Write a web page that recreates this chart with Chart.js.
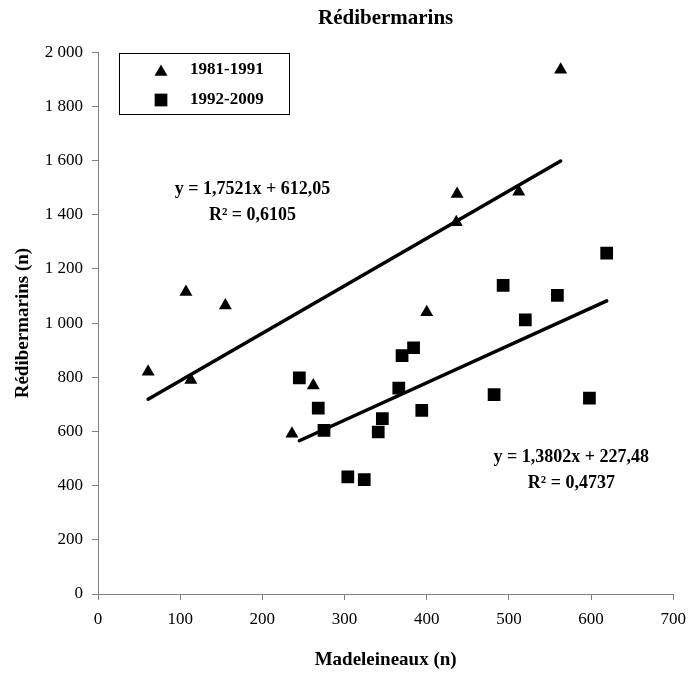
<!DOCTYPE html>
<html>
<head>
<meta charset="utf-8">
<script src="https://cdn.jsdelivr.net/npm/chart.js@4/dist/chart.umd.min.js"></script>
<style>
  html, body { margin: 0; padding: 0; background: #fff; }
  #wrap { width: 695px; height: 674px; }
</style>
</head>
<body>
<div id="wrap"><canvas id="chart" width="695" height="674"></canvas></div>
<script>
// 1981-1991 (triangles)
const madeleineaux8191 = [61, 107, 113, 155, 236, 262, 400, 436, 437, 512, 563];
const redibermarins8191 = [820, 1115, 790, 1065, 592, 770, 1040, 1372, 1477, 1485, 1935];
// 1992-2009 (squares)
const madeleineaux9209 = [245, 268, 275, 304, 324, 341, 346, 366, 370, 384, 394, 482, 493, 520, 559, 598, 619];
const redibermarins9209 = [798, 686, 604, 432, 422, 598, 647, 760, 880, 909, 678, 736, 1139, 1012, 1102, 723, 1258];

const seriesLabels = ['1981-1991', '1992-2009'];
// trend line coefficients as printed on the chart: [slope, intercept]
const trend8191 = [1.7521, 612.05];
const trend9209 = [1.3802, 227.48];
const trendText8191 = ['y = 1,7521x + 612,05', 'R² = 0,6105'];
const trendText9209 = ['y = 1,3802x + 227,48', 'R² = 0,4737'];

const xTicks = [0, 100, 200, 300, 400, 500, 600, 700];
const yTicks = [0, 200, 400, 600, 800, 1000, 1200, 1400, 1600, 1800, 2000];

const SERIF = '"Liberation Serif", "Times New Roman", serif';

const toPoints = (xs, ys) => xs.map((x, i) => ({ x, y: ys[i] }));
const trendPoints = (xs, coef) => {
  const lo = Math.min(...xs), hi = Math.max(...xs);
  return [lo, hi].map(x => ({ x, y: coef[0] * x + coef[1] }));
};
const frNumber = v => String(v).replace(/\B(?=(\d{3})+(?!\d))/g, ' ');

// legend box and the trend equations, drawn on top
const overlay = {
  id: 'overlay',
  afterDraw(chart) {
    const { ctx, scales: { x, y } } = chart;
    ctx.save();

    // legend
    ctx.strokeStyle = '#000';
    ctx.lineWidth = 1;
    ctx.strokeRect(119.5, 53.5, 170, 61);
    const styles = ['triangle', 'rect'];
    const radii = [7.5, 9];
    ctx.font = 'bold 17px ' + SERIF;
    ctx.textBaseline = 'middle';
    ctx.textAlign = 'left';
    seriesLabels.forEach((label, i) => {
      const cy = 70 + i * 30;
      ctx.fillStyle = '#000';
      Chart.helpers.drawPoint(ctx, { pointStyle: styles[i], radius: radii[i], borderWidth: 0 }, 161, cy + (i === 0 ? 2 : 0));
      ctx.fillText(label, 190, cy);
    });

    // equations
    ctx.font = 'bold 18px ' + SERIF;
    ctx.textAlign = 'center';
    ctx.fillStyle = '#000';
    const eq = (lines, vx, vy) => {
      const px = x.getPixelForValue(vx), py = y.getPixelForValue(vy);
      lines.forEach((t, i) => ctx.fillText(t, px, py + i * 26));
    };
    eq(trendText8191, 188, 1492);
    eq(trendText9209, 576, 505);
    ctx.restore();
  }
};

new Chart(document.getElementById('chart'), {
  type: 'scatter',
  data: {
    datasets: [
      {
        label: seriesLabels[0] + ' tendance',
        data: trendPoints(madeleineaux8191, trend8191),
        showLine: true,
        borderColor: '#000',
        borderWidth: 3.5,
        borderCapStyle: 'round',
        pointRadius: 0
      },
      {
        label: seriesLabels[1] + ' tendance',
        data: trendPoints(madeleineaux9209, trend9209),
        showLine: true,
        borderColor: '#000',
        borderWidth: 3.5,
        borderCapStyle: 'round',
        pointRadius: 0
      },
      {
        label: seriesLabels[0],
        data: toPoints(madeleineaux8191, redibermarins8191),
        pointStyle: 'triangle',
        pointRadius: 7.5,
        pointBackgroundColor: '#000',
        pointBorderWidth: 0
      },
      {
        label: seriesLabels[1],
        data: toPoints(madeleineaux9209, redibermarins9209),
        pointStyle: 'rect',
        pointRadius: 9,
        pointBackgroundColor: '#000',
        pointBorderWidth: 0
      }
    ]
  },
  options: {
    responsive: false,
    animation: false,
    events: [],
    layout: { padding: { left: 0, right: 21, top: 0, bottom: 0 } },
    plugins: {
      legend: { display: false },
      tooltip: { enabled: false },
      title: {
        display: true,
        text: 'Rédibermarins',
        color: '#000',
        fullSize: false,
        font: { family: SERIF, size: 21, weight: 'bold' },
        padding: { top: 6, bottom: 21 }
      }
    },
    scales: {
      x: {
        type: 'linear',
        min: xTicks[0],
        max: xTicks[xTicks.length - 1],
        afterBuildTicks: s => { s.ticks = xTicks.map(v => ({ value: v })); },
        afterFit: s => { s.height = 80; },
        ticks: { color: '#000', font: { family: SERIF, size: 17 }, padding: 9, maxRotation: 0 },
        grid: { drawOnChartArea: false, drawTicks: true, tickLength: 6, color: '#808080' },
        border: { display: true, color: '#808080', width: 1 },
        title: {
          display: true,
          text: 'Madeleineaux (n)',
          color: '#000',
          font: { family: SERIF, size: 19, weight: 'bold' },
          padding: { top: 0, bottom: 3 }
        }
      },
      y: {
        type: 'linear',
        min: yTicks[0],
        max: yTicks[yTicks.length - 1],
        afterBuildTicks: s => { s.ticks = yTicks.map(v => ({ value: v })); },
        afterFit: s => { s.width = 98; },
        ticks: { color: '#000', font: { family: SERIF, size: 17 }, padding: 9, callback: v => frNumber(v) },
        grid: { drawOnChartArea: false, drawTicks: true, tickLength: 6, color: '#808080' },
        border: { display: true, color: '#808080', width: 1 },
        title: {
          display: true,
          text: 'Rédibermarins (n)',
          color: '#000',
          font: { family: SERIF, size: 19, weight: 'bold' },
          padding: { top: 12, bottom: 0 }
        }
      }
    }
  },
  plugins: [overlay]
});
</script>
</body>
</html>
